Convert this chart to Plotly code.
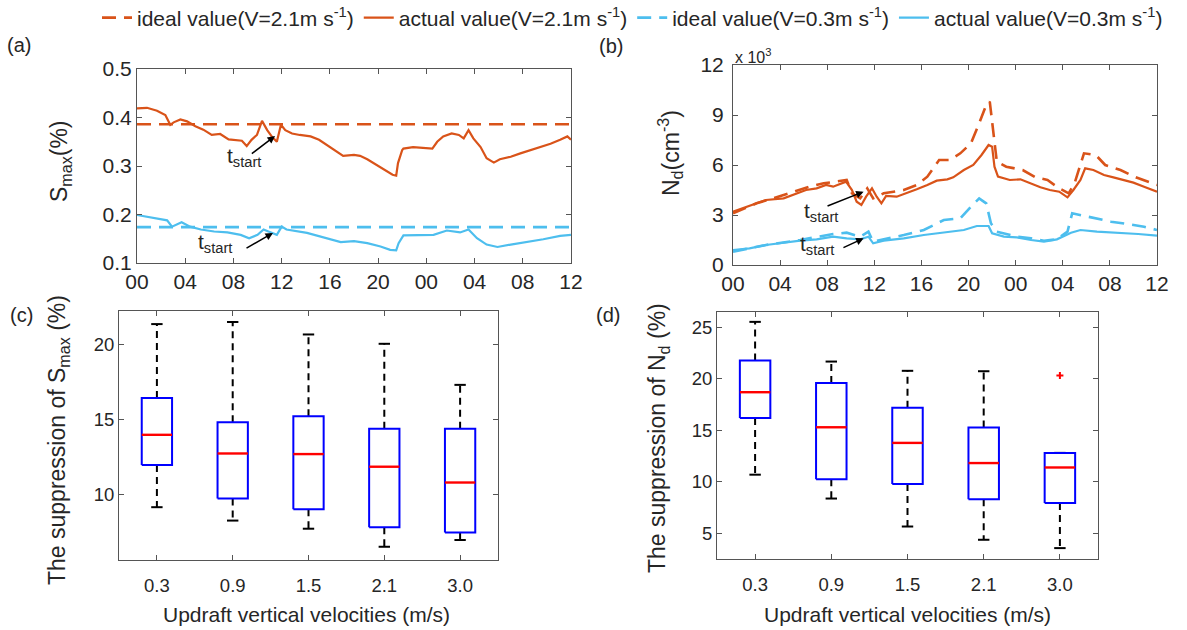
import plotly.graph_objects as go

# ---------------- time series (hours from 00 of day 1) ----------------
hours_smax_v21 = [0, 0.83, 1.66, 2.35, 2.76, 3.04, 3.6, 4.15, 4.84, 5.5, 6.2, 6.9, 7.6, 8.3,
                  8.7, 9.1, 9.5, 9.95, 10.37, 10.8, 11.2, 11.6, 11.94, 12.3, 12.86, 13.5,
                  14.4, 15.1, 15.8, 16.6, 17.1, 18.0, 18.5, 19.1, 19.6, 20.5, 21.2, 21.5,
                  21.65, 22.0, 22.1, 22.9, 23.8, 24.5, 24.9, 25.4, 26.1, 26.7, 27.1, 27.5,
                  27.9, 28.5, 29.0, 29.6, 30.1, 31.0, 31.8, 32.6, 33.5, 34.3, 35.1, 35.7, 36.0]
smax_actual_v21 = [0.419, 0.420, 0.414, 0.405, 0.385, 0.390, 0.396, 0.392, 0.382, 0.375,
                   0.364, 0.366, 0.355, 0.354, 0.352, 0.341, 0.354, 0.364, 0.393, 0.374,
                   0.360, 0.350, 0.385, 0.374, 0.367, 0.364, 0.361, 0.354, 0.343, 0.330,
                   0.321, 0.323, 0.321, 0.314, 0.306, 0.292, 0.282, 0.280, 0.306, 0.333,
                   0.336, 0.339, 0.337, 0.336, 0.350, 0.361, 0.367, 0.364, 0.357, 0.374,
                   0.357, 0.339, 0.316, 0.307, 0.314, 0.319, 0.326, 0.332, 0.339, 0.346,
                   0.354, 0.361, 0.354]
smax_ideal_v21 = 0.386

hours_smax_v03 = [0, 1.4, 2.5, 2.9, 3.7, 4.4, 5.3, 6.4, 7.5, 8.6, 9.3, 10.0, 10.5, 10.9, 11.6,
                  12.0, 12.4, 14.1, 15.8, 16.9, 18.0, 19.1, 20.2, 21.0, 21.5, 21.7, 22.1,
                  23.5, 24.6, 25.7, 26.8, 27.5, 28.2, 29.0, 29.9, 31.0, 32.3, 33.7, 35.1, 36.0]
smax_actual_v03 = [0.199, 0.193, 0.188, 0.175, 0.184, 0.175, 0.169, 0.165, 0.163, 0.158,
                   0.151, 0.158, 0.169, 0.165, 0.158, 0.175, 0.169, 0.162, 0.151, 0.143,
                   0.145, 0.141, 0.134, 0.127, 0.126, 0.141, 0.157, 0.158, 0.158, 0.167,
                   0.163, 0.169, 0.151, 0.138, 0.133, 0.138, 0.143, 0.149, 0.156, 0.158]
smax_ideal_v03 = 0.174

# droplet number, units of 10^3 cm^-3
hours_nd_actual_v21 = [0, 1.7, 2.8, 4.3, 5.4, 6.2, 7.1, 7.9, 8.5, 9.1, 9.6, 10.1, 10.5, 10.9,
                       11.3, 11.8, 12.2, 12.6, 13.0, 13.9, 14.75, 15.6, 16.5, 17.3, 18.2, 18.7,
                       19.6, 20.4, 21.1, 21.7, 22.0, 22.2, 22.5, 23.5, 24.4, 25.2, 26.1, 26.9,
                       27.7, 28.4, 28.9, 29.5, 29.9, 30.6, 31.5, 32.3, 33.2, 34.0, 34.9, 35.6,
                       36.0]
nd_actual_v21 = [3.2, 3.6, 3.9, 4.0, 4.3, 4.5, 4.6, 4.8, 4.7, 4.86, 5.0, 4.5, 3.8, 3.6, 4.1,
                 4.6, 4.1, 3.7, 4.14, 4.1, 4.3, 4.54, 4.8, 5.06, 5.14, 5.26, 5.7, 6.0, 6.6,
                 7.2, 7.1, 5.9, 5.3, 5.1, 5.14, 4.9, 4.66, 4.5, 4.4, 4.06, 4.5, 5.1, 5.8, 5.7,
                 5.4, 5.26, 5.1, 4.94, 4.7, 4.5, 4.4]

hours_nd_ideal_v21 = [0, 2.0, 4.3, 6.5, 7.7, 8.8, 9.65, 10.1, 10.8, 11.4, 11.9, 12.8, 14.5,
                      15.6, 16.5, 17.5, 18.4, 19.3, 20.2, 20.9, 21.5, 21.8, 22.1, 22.4, 23.2,
                      24.6, 25.7, 26.7, 27.7, 28.5, 29.0, 29.8, 30.8, 31.6, 32.9, 34.2, 35.6,
                      36.0]
nd_ideal_v21 = [3.1, 3.7, 4.2, 4.7, 4.9, 5.0, 5.1, 4.3, 4.0, 4.6, 4.0, 4.3, 4.5, 4.8, 5.3,
                6.3, 6.3, 6.7, 7.3, 8.5, 9.6, 9.8, 8.0, 6.2, 5.9, 5.7, 5.26, 5.1, 4.6, 4.3,
                4.9, 6.7, 6.6, 6.0, 5.7, 5.26, 4.9, 4.8]

hours_nd_actual_v03 = [0, 1.4, 2.8, 4.3, 5.7, 7.1, 8.5, 9.65, 10.8, 11.5, 11.9, 12.8, 14.5,
                       16.2, 17.9, 19.6, 20.7, 21.7, 22.0, 23.0, 24.1, 25.3, 26.4, 27.5, 28.7,
                       29.5, 30.9, 32.7, 34.4, 36.0]
nd_actual_v03 = [0.9, 1.0, 1.2, 1.34, 1.46, 1.54, 1.7, 1.6, 1.54, 1.7, 1.3, 1.46, 1.6, 1.8,
                 1.94, 2.1, 2.34, 2.34, 1.9, 1.7, 1.66, 1.5, 1.4, 1.54, 1.94, 2.1, 2.0, 1.94,
                 1.86, 1.76]

hours_nd_ideal_v03 = [0, 2.8, 5.7, 8.5, 9.65, 10.8, 11.5, 11.9, 14.5, 16.2, 17.9, 19.3, 20.2,
                      20.9, 21.5, 21.9, 22.4, 24.1, 25.3, 26.4, 27.5, 28.4, 28.8, 29.5, 30.7,
                      32.1, 33.5, 34.9, 36.0]
nd_ideal_v03 = [0.8, 1.2, 1.5, 1.86, 1.94, 1.7, 2.0, 1.4, 1.8, 2.1, 2.7, 2.8, 3.5, 4.0, 3.7,
                2.5, 2.0, 1.7, 1.6, 1.46, 1.54, 2.0, 3.1, 3.0, 2.8, 2.6, 2.46, 2.3, 2.1]

time_tickvals = [0, 4, 8, 12, 16, 20, 24, 28, 32, 36]
time_ticktext = ["00", "04", "08", "12", "16", "20", "00", "04", "08", "12"]

# ---------------- box-plot statistics ----------------
velocities = ["0.3", "0.9", "1.5", "2.1", "3.0"]

smax_low = [9.16, 8.27, 7.73, 6.53, 6.98]
smax_q1 = [11.96, 9.73, 9.03, 7.83, 7.47]
smax_med = [13.97, 12.73, 12.69, 11.85, 10.80]
smax_q3 = [16.42, 14.80, 15.20, 14.37, 14.37]
smax_high = [21.33, 21.47, 20.64, 20.02, 17.29]

nd_low = [10.68, 8.36, 5.64, 4.35, 3.54]
nd_q1 = [16.20, 10.23, 9.78, 8.30, 7.93]
nd_med = [18.70, 15.29, 13.77, 11.81, 11.38]
nd_q3 = [21.78, 19.60, 17.20, 15.26, 12.80]
nd_high = [25.54, 21.68, 20.78, 20.74, 12.80]
nd_outlier_x = ["3.0"]
nd_outlier_y = [20.32]

ORANGE = "#D95319"
SKY = "#4DBEEE"
TXT = "#262626"
FONT = "Liberation Sans, Arial, sans-serif"

fig = go.Figure()

# ---- panel (a): S_max ----
fig.add_trace(go.Scatter(x=[0, 36], y=[smax_ideal_v21] * 2, mode="lines",
                         line=dict(color=ORANGE, width=2.6, dash="14px,8px"),
                         name="ideal value(V=2.1m s<sup>-1</sup>)", legendrank=1,
                         xaxis="x", yaxis="y"))
fig.add_trace(go.Scatter(x=hours_smax_v21, y=smax_actual_v21, mode="lines",
                         line=dict(color=ORANGE, width=2.2),
                         name="actual value(V=2.1m s<sup>-1</sup>)", legendrank=2,
                         xaxis="x", yaxis="y"))
fig.add_trace(go.Scatter(x=[0, 36], y=[smax_ideal_v03] * 2, mode="lines",
                         line=dict(color=SKY, width=2.6, dash="14px,8px"),
                         name="ideal value(V=0.3m s<sup>-1</sup>)", legendrank=3,
                         xaxis="x", yaxis="y"))
fig.add_trace(go.Scatter(x=hours_smax_v03, y=smax_actual_v03, mode="lines",
                         line=dict(color=SKY, width=2.2),
                         name="actual value(V=0.3m s<sup>-1</sup>)", legendrank=4,
                         xaxis="x", yaxis="y"))

# ---- panel (b): N_d ----
fig.add_trace(go.Scatter(x=hours_nd_ideal_v21, y=nd_ideal_v21, mode="lines",
                         line=dict(color=ORANGE, width=2.6, dash="14px,8px"),
                         showlegend=False, xaxis="x2", yaxis="y2"))
fig.add_trace(go.Scatter(x=hours_nd_actual_v21, y=nd_actual_v21, mode="lines",
                         line=dict(color=ORANGE, width=2.2),
                         showlegend=False, xaxis="x2", yaxis="y2"))
fig.add_trace(go.Scatter(x=hours_nd_ideal_v03, y=nd_ideal_v03, mode="lines",
                         line=dict(color=SKY, width=2.6, dash="14px,8px"),
                         showlegend=False, xaxis="x2", yaxis="y2"))
fig.add_trace(go.Scatter(x=hours_nd_actual_v03, y=nd_actual_v03, mode="lines",
                         line=dict(color=SKY, width=2.2),
                         showlegend=False, xaxis="x2", yaxis="y2"))


def add_boxes(low, q1, med, q3, high, xa, ya, half=0.2, cap=0.075):
    bx, by, mx, my, wx, wy, cx, cy = [], [], [], [], [], [], [], []
    for i in range(len(q1)):
        p = i + 1
        bx += [p - half, p + half, p + half, p - half, p - half, None]
        by += [q1[i], q1[i], q3[i], q3[i], q1[i], None]
        mx += [p - half, p + half, None]
        my += [med[i], med[i], None]
        wx += [p, p, None, p, p, None]
        wy += [q3[i], high[i], None, q1[i], low[i], None]
        cx += [p - cap, p + cap, None, p - cap, p + cap, None]
        cy += [high[i], high[i], None, low[i], low[i], None]
    fig.add_trace(go.Scatter(x=wx, y=wy, mode="lines", showlegend=False,
                             line=dict(color="black", width=2, dash="7px,5px"),
                             xaxis=xa, yaxis=ya))
    fig.add_trace(go.Scatter(x=cx, y=cy, mode="lines", showlegend=False,
                             line=dict(color="black", width=2), xaxis=xa, yaxis=ya))
    fig.add_trace(go.Scatter(x=bx, y=by, mode="lines", showlegend=False,
                             line=dict(color="#0000FF", width=2), xaxis=xa, yaxis=ya))
    fig.add_trace(go.Scatter(x=mx, y=my, mode="lines", showlegend=False,
                             line=dict(color="#FF0000", width=2.4), xaxis=xa, yaxis=ya))


add_boxes(smax_low, smax_q1, smax_med, smax_q3, smax_high, "x3", "y3")
add_boxes(nd_low, nd_q1, nd_med, nd_q3, nd_high, "x4", "y4")
fig.add_trace(go.Scatter(x=[velocities.index(v) + 1 for v in nd_outlier_x], y=nd_outlier_y,
                         mode="markers", showlegend=False,
                         marker=dict(symbol="cross-thin", size=5, color="red",
                                     line=dict(color="red", width=2)),
                         xaxis="x4", yaxis="y4"))

W, H = 1187, 630


def px(v):
    return v / W


def py(v):
    return 1 - v / H


axis_common = dict(showline=True, mirror="ticks", ticks="inside", ticklen=5,
                   linecolor="#555555", linewidth=1, tickcolor="#555555",
                   showgrid=False, zeroline=False, color=TXT)

top_font = dict(family=FONT, size=21, color=TXT)
bot_font = dict(family=FONT, size=18.5, color=TXT)

fig.update_layout(
    width=W, height=H,
    margin=dict(l=0, r=0, t=0, b=0, autoexpand=False),
    paper_bgcolor="white", plot_bgcolor="white",
    font=dict(family=FONT, color=TXT),
    showlegend=True,
    legend=dict(orientation="h", x=px(97), y=py(18), xanchor="left", yanchor="middle",
                font=dict(family=FONT, size=21, color=TXT), itemwidth=30,
                bgcolor="rgba(0,0,0,0)", traceorder="normal"),
    xaxis=dict(domain=[px(137), px(571)], range=[0, 36], tickvals=time_tickvals,
               ticktext=time_ticktext, tickfont=top_font, anchor="y", **axis_common),
    yaxis=dict(domain=[py(263), py(69)], range=[0.1, 0.5],
               tickvals=[0.1, 0.2, 0.3, 0.4, 0.5], tickformat=".1f",
               tickfont=top_font, anchor="x", **axis_common),
    xaxis2=dict(domain=[px(733), px(1157)], range=[0, 36], tickvals=time_tickvals,
                ticktext=time_ticktext, tickfont=top_font, anchor="y2", **axis_common),
    yaxis2=dict(domain=[py(265), py(65)], range=[0, 12], tickvals=[0, 3, 6, 9, 12],
                tickfont=top_font, anchor="x2", ticklabelstandoff=4, **axis_common),
    xaxis3=dict(domain=[px(119), px(498)], range=[0.5, 5.5], tickvals=[1, 2, 3, 4, 5],
                ticktext=velocities, tickfont=bot_font, anchor="y3",
                ticklabelstandoff=9, **axis_common),
    yaxis3=dict(domain=[py(560), py(311)], range=[5.65, 22.2], tickvals=[10, 15, 20],
                tickfont=bot_font, anchor="x3", **axis_common),
    xaxis4=dict(domain=[px(717), px(1098)], range=[0.5, 5.5], tickvals=[1, 2, 3, 4, 5],
                ticktext=velocities, tickfont=bot_font, anchor="y4",
                ticklabelstandoff=9, **axis_common),
    yaxis4=dict(domain=[py(559), py(312)], range=[2.48, 26.5],
                tickvals=[5, 10, 15, 20, 25], tickfont=bot_font, anchor="x4",
                **axis_common),
)

annotations = []


def paper_text(text, x, y, size, angle=0, xanchor="center", yanchor="middle"):
    annotations.append(dict(text=text, x=px(x), y=py(y), xref="paper", yref="paper",
                            showarrow=False, textangle=angle, xanchor=xanchor,
                            yanchor=yanchor, font=dict(family=FONT, size=size, color=TXT)))


paper_text("(a)", 19, 45, 20)
paper_text("(b)", 611, 46, 20)
paper_text("(c)", 21, 315, 20)
paper_text("(d)", 608, 315, 20)
paper_text("S<sub>max</sub>(%)", 60, 161, 23, angle=-90)
paper_text("N<sub>d</sub>(cm<sup>-3</sup>)", 670, 153, 23, angle=-90)
paper_text("The suppression of S<sub>max</sub> (%)", 58, 440, 23, angle=-90)
paper_text("The suppression of N<sub>d</sub> (%)", 658, 438, 23, angle=-90)
paper_text("Updraft vertical velocities (m/s)", 307, 614, 21)
paper_text("Updraft vertical velocities (m/s)", 907, 614, 21)
paper_text("x 10<sup>3</sup>", 733, 56, 16, xanchor="left")


def t_start(xa, ya, tx, ty, tail, head):
    annotations.append(dict(text="t<sub>start</sub>", x=tx, y=ty, xref=xa, yref=ya,
                            showarrow=False, font=dict(family=FONT, size=21, color=TXT)))
    annotations.append(dict(text="", x=head[0], y=head[1], ax=tail[0], ay=tail[1],
                            xref=xa, yref=ya, axref=xa, ayref=ya, showarrow=True,
                            arrowhead=2, arrowsize=1, arrowwidth=1.5, arrowcolor="black"))


t_start("x", "y", 8.9, 0.318, (9.4, 0.323), (11.45, 0.362))
t_start("x", "y", 6.5, 0.142, (8.96, 0.129), (11.28, 0.162))
t_start("x2", "y2", 7.5, 3.2, (7.9, 3.5), (11.09, 4.40))
t_start("x2", "y2", 7.1, 1.2, (9.25, 1.0), (11.09, 1.60))

fig.update_layout(annotations=annotations)

fig.write_html("out.html")
